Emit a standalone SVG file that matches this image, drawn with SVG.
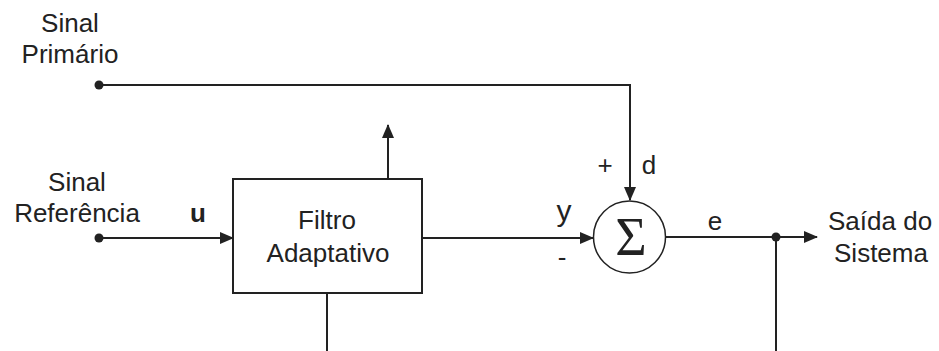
<svg xmlns="http://www.w3.org/2000/svg" width="939" height="351" viewBox="0 0 939 351">
<style>
text{font-family:"Liberation Sans",Arial,sans-serif;font-size:26px;fill:#222}
.c{text-anchor:middle}
.ln{stroke:#222;stroke-width:2;fill:none}
</style>
<defs>
<marker id="ah" markerWidth="14" markerHeight="12" refX="13" refY="6" orient="auto" markerUnits="userSpaceOnUse">
<path d="M0,0 L14,6 L0,12 Z" fill="#222"/>
</marker>
</defs>
<rect width="939" height="351" fill="#fff"/>
<g id="labels">
<text class="c" x="70" y="32">Sinal</text>
<text class="c" x="70" y="63">Primário</text>
<text class="c" x="77" y="191">Sinal</text>
<text class="c" x="77" y="222">Referência</text>
<text class="c" x="198" y="222" font-weight="bold">u</text>
<text class="c" x="605" y="174">+</text>
<text class="c" x="649" y="174">d</text>
<text class="c" x="564" y="221" style="font-size:30px">y</text>
<text class="c" x="562" y="266">-</text>
<text class="c" x="715" y="230">e</text>
<text x="828" y="230">Saída do</text>
<text class="c" x="881" y="262">Sistema</text>
</g>
<g id="filtro">
<rect class="ln" x="233" y="179" width="189" height="114"/>
<text class="c" x="327" y="229">Filtro</text>
<text class="c" x="328" y="262">Adaptativo</text>
</g>
<g id="somador">
<circle cx="629.5" cy="237" r="36" fill="none" stroke="#222" stroke-width="1.5"/>
<text class="c" x="631" y="255" style="font-family:'Liberation Serif','Times New Roman',serif;font-size:54px">Σ</text>
</g>
<g id="connectors">
<circle cx="99" cy="85" r="4.5" fill="#222"/>
<circle cx="99" cy="238" r="4.5" fill="#222"/>
<circle cx="776" cy="237" r="4.5" fill="#222"/>
<path class="ln" d="M99,85 H630 V200" marker-end="url(#ah)"/>
<path class="ln" d="M99,238 H233" marker-end="url(#ah)"/>
<path class="ln" d="M422,238 H593" marker-end="url(#ah)"/>
<path class="ln" d="M666,237 H817" marker-end="url(#ah)"/>
<path class="ln" d="M388,179 V125" marker-end="url(#ah)"/>
<path class="ln" d="M327,293 V351"/>
<path class="ln" d="M776,237 V351"/>
</g>
</svg>
